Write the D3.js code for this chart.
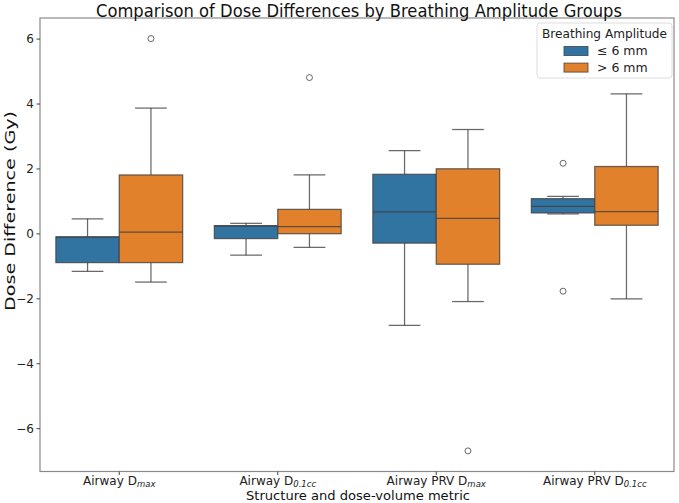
<!DOCTYPE html>
<html><head><meta charset="utf-8">
<script src="https://cdn.jsdelivr.net/npm/d3@7"></script>
<style>body{margin:0;background:#fff}svg{display:block}text{font-family:"DejaVu Sans",sans-serif}</style>
</head><body><svg id="c" width="679" height="503"></svg>
<script>
const categories = ["Airway D|max", "Airway D|0.1cc", "Airway PRV D|max", "Airway PRV D|0.1cc"];
const groups = ["≤ 6 mm", "> 6 mm"];
const colors = ["#3274a1", "#e1812c"];
// group ≤ 6 mm
const lowQ1 = [-0.90, -0.16, -0.30, 0.63];
const lowMed = [-0.11, 0.22, 0.66, 0.83];
const lowQ3 = [-0.11, 0.24, 1.82, 1.07];
const lowWLo = [-1.17, -0.67, -2.83, 0.60];
const lowWHi = [0.45, 0.31, 2.55, 1.14];
const lowOut = [[], [], [], [2.16, -1.78]];
// group > 6 mm
const highQ1 = [-0.90, -0.01, -0.95, 0.25];
const highMed = [0.04, 0.21, 0.46, 0.67];
const highQ3 = [1.80, 0.74, 1.99, 2.06];
const highWLo = [-1.50, -0.43, -2.10, -2.02];
const highWHi = [3.86, 1.80, 3.20, 4.30];
const highOut = [[6.0], [4.8], [-6.7], []];
const yTicks = [-6, -4, -2, 0, 2, 4, 6];

const svg = d3.select("#c");
const L = 40, R = 674, T = 18, B = 471.5;
const x = d3.scaleBand().domain(categories).range([L, R]).padding(0);
const xs = d3.scaleBand().domain(groups).range([0, x.bandwidth() * 0.8]);
const y = d3.scaleLinear().domain([-7.335, 6.635]).range([B, T]);

const stats = [
  categories.map((c, i) => ({c, g: groups[0], q1: lowQ1[i], med: lowMed[i], q3: lowQ3[i], lo: lowWLo[i], hi: lowWHi[i], out: lowOut[i], col: colors[0]})),
  categories.map((c, i) => ({c, g: groups[1], q1: highQ1[i], med: highMed[i], q3: highQ3[i], lo: highWLo[i], hi: highWHi[i], out: highOut[i], col: colors[1]}))
].flat();

const lineCol = "#3f3f3f", lineOp = 0.78, lw = 1.25;
const gB = svg.append("g");
stats.forEach(d => {
  const x0 = x(d.c) + x.bandwidth() * 0.1 + xs(d.g);
  const w = xs.bandwidth();
  const cx = x0 + w / 2;
  const g = gB.append("g");
  g.append("line").attr("x1", cx).attr("x2", cx).attr("y1", y(d.q3)).attr("y2", y(d.hi));
  g.append("line").attr("x1", cx).attr("x2", cx).attr("y1", y(d.q1)).attr("y2", y(d.lo));
  g.append("line").attr("x1", cx - w / 4).attr("x2", cx + w / 4).attr("y1", y(d.hi)).attr("y2", y(d.hi));
  g.append("line").attr("x1", cx - w / 4).attr("x2", cx + w / 4).attr("y1", y(d.lo)).attr("y2", y(d.lo));
  g.append("rect").attr("x", x0).attr("width", w).attr("y", y(d.q3)).attr("height", Math.max(0, y(d.q1) - y(d.q3)))
    .attr("fill", d.col);
  g.append("line").attr("x1", x0).attr("x2", x0 + w).attr("y1", y(d.med)).attr("y2", y(d.med));
  g.selectAll("line").attr("stroke", lineCol).attr("stroke-opacity", lineOp).attr("stroke-width", lw);
  g.select("rect").attr("stroke", lineCol).attr("stroke-opacity", lineOp).attr("stroke-width", lw);
  g.selectAll("circle.o").data(d.out).join("circle").attr("class", "o")
    .attr("cx", cx).attr("cy", v => y(v)).attr("r", 3)
    .attr("fill", "none").attr("stroke", lineCol).attr("stroke-opacity", lineOp).attr("stroke-width", 1);
});

svg.append("rect").attr("x", L).attr("y", T).attr("width", R - L).attr("height", B - T)
  .attr("fill", "none").attr("stroke", "#8a8a8a").attr("stroke-width", 1.2);

const yAxis = svg.append("g").attr("transform", `translate(${L},0)`)
  .call(d3.axisLeft(y).tickValues(yTicks).tickSize(3.5).tickFormat(v => (v < 0 ? "−" : "") + Math.abs(v)));
yAxis.select(".domain").remove();
yAxis.selectAll(".tick line").attr("stroke", "#444");
yAxis.selectAll(".tick text").attr("font-size", 12).attr("fill", "#222").attr("x", -6).attr("font-family", "DejaVu Sans");

const xAxis = svg.append("g").attr("transform", `translate(0,${B})`)
  .call(d3.axisBottom(x).tickSize(3.5).tickFormat(""));
xAxis.select(".domain").remove();
xAxis.selectAll(".tick line").attr("stroke", "#444");
xAxis.selectAll(".tick").each(function(c) {
  const [main, sub] = c.split("|");
  const t = d3.select(this).append("text").attr("y", 13.5).attr("text-anchor", "middle")
    .attr("font-size", 12).attr("fill", "#222").attr("font-family", "DejaVu Sans");
  t.append("tspan").text(main);
  t.append("tspan").attr("dy", 1.5).attr("font-size", 8.5).attr("font-style", "italic").text(sub);
});

svg.append("text").attr("x", 359).attr("y", 16.5).attr("text-anchor", "middle")
  .attr("font-size", 18).attr("fill", "#111").attr("textLength", 526).attr("lengthAdjust", "spacingAndGlyphs")
  .text("Comparison of Dose Differences by Breathing Amplitude Groups");
svg.append("text").attr("x", 358).attr("y", 500).attr("text-anchor", "middle")
  .attr("font-size", 13).attr("fill", "#111").attr("textLength", 224).attr("lengthAdjust", "spacingAndGlyphs")
  .text("Structure and dose-volume metric");
svg.append("text").attr("transform", "translate(15,211) rotate(-90)").attr("text-anchor", "middle")
  .attr("font-size", 14).attr("fill", "#111").attr("textLength", 200).attr("lengthAdjust", "spacingAndGlyphs")
  .text("Dose Difference (Gy)");

const lg = svg.append("g");
lg.append("rect").attr("x", 537).attr("y", 23).attr("width", 135).attr("height", 55).attr("rx", 3)
  .attr("fill", "#fff").attr("fill-opacity", 0.85).attr("stroke", "#ddd");
lg.append("text").attr("x", 604.5).attr("y", 38).attr("text-anchor", "middle").attr("font-size", 12.5).attr("fill", "#222")
  .attr("textLength", 125).attr("lengthAdjust", "spacingAndGlyphs")
  .text("Breathing Amplitude");
groups.forEach((g, i) => {
  const yy = 51 + i * 16.6;
  lg.append("rect").attr("x", 564).attr("y", yy - 4.5).attr("width", 24).attr("height", 9)
    .attr("fill", colors[i]).attr("stroke", lineCol).attr("stroke-opacity", lineOp).attr("stroke-width", 1);
  lg.append("text").attr("x", 597).attr("y", yy + 4.2).attr("font-size", 12.5).attr("fill", "#222").text(g);
});
</script></body></html>
